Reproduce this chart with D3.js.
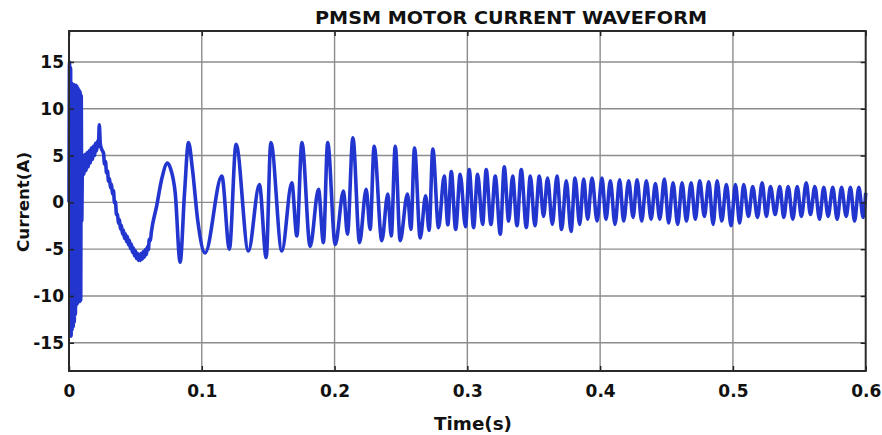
<!DOCTYPE html>
<html>
<head>
<meta charset="utf-8">
<script src="https://cdn.jsdelivr.net/npm/d3@7"></script>
<style>
  html, body { margin: 0; padding: 0; background: #fff; }
  text { font-family: "DejaVu Sans", Verdana, sans-serif; font-weight: bold; fill: #111; }
</style>
</head>
<body>
<svg id="chart" width="882" height="435"></svg>
<script>
// ---- data ----
const chartTitle = "PMSM MOTOR CURRENT WAVEFORM";
const xLabel = "Time(s)";
const yLabel = "Current(A)";
const xTicks = [0, 0.1, 0.2, 0.3, 0.4, 0.5, 0.6];
const xTickLabels = ["0", "0.1", "0.2", "0.3", "0.4", "0.5", "0.6"];
const yTicks = [-15, -10, -5, 0, 5, 10, 15];
const yTickLabels = ["-15", "-10", "-5", "0", "5", "10", "15"];

// time stamps (s) of the waveform vertices
const time = [
  0, 0.0004, 0.0008, 0.0012, 0.0016, 0.002, 0.0024, 0.0028, 0.0032, 0.0036,
  0.004, 0.0044, 0.0048, 0.0052, 0.0056, 0.006, 0.0064, 0.0068, 0.0072, 0.0076,
  0.008, 0.0084, 0.0088, 0.0092, 0.0096, 0.0100,
  0.0106, 0.0112, 0.0120, 0.0128, 0.0136, 0.0144, 0.0152, 0.0160, 0.0168, 0.0176,
  0.0184, 0.0192, 0.0200, 0.0208, 0.0216, 0.0222, 0.0228, 0.0236, 0.0248,
  0.02600, 0.02675, 0.02750, 0.02825, 0.02900, 0.02975, 0.03050, 0.03125, 0.03200, 0.03275,
  0.03350, 0.03425, 0.03500, 0.03575, 0.03650, 0.03725, 0.03800, 0.03875, 0.03950, 0.04025,
  0.04100, 0.04175, 0.04250, 0.04325, 0.04400, 0.04475, 0.04550, 0.04625, 0.04700, 0.04775,
  0.04850, 0.04925, 0.05000, 0.05075, 0.05150, 0.05225, 0.05300, 0.05375, 0.05450, 0.05525,
  0.05600, 0.05675, 0.05750, 0.05825, 0.05900, 0.05975, 0.06050, 0.06125, 0.06200,
  0.0660, 0.0700, 0.0741, 0.0765, 0.0800, 0.0837, 0.0870, 0.0900, 0.0930, 0.0970,
  0.1025, 0.1151, 0.1208, 0.1258, 0.1351, 0.1434, 0.1485, 0.1520, 0.1603, 0.1678,
  0.1716, 0.1754, 0.1816, 0.1879, 0.1916, 0.1948, 0.2005, 0.2067, 0.2097, 0.2138,
  0.2188, 0.2238, 0.2268, 0.2298, 0.2356, 0.2401, 0.2427, 0.2457, 0.2494, 0.2549,
  0.2575, 0.2602, 0.2645, 0.2686, 0.2712, 0.2740, 0.2783, 0.2826, 0.2853, 0.2879,
  0.2912, 0.2946, 0.2986, 0.3014, 0.3047, 0.3077, 0.3115, 0.3142, 0.3178, 0.3210,
  0.3248, 0.3278, 0.3311, 0.3341, 0.3374, 0.3406, 0.3444, 0.3474, 0.3509, 0.3542,
  0.3574, 0.3604, 0.3640, 0.3675, 0.3710, 0.3745, 0.3781, 0.3811, 0.3846, 0.3876,
  0.3906, 0.3939, 0.3977, 0.4014, 0.4044, 0.4077, 0.4112, 0.4147, 0.4177, 0.4215,
  0.4248, 0.4278, 0.4313, 0.4348, 0.4384, 0.4416, 0.4449, 0.4484, 0.4516, 0.4549,
  0.4584, 0.4617, 0.4650, 0.4685, 0.4717, 0.4750, 0.4785, 0.4818, 0.4851, 0.4881,
  0.4916, 0.4951, 0.4986, 0.5019, 0.5051, 0.5081, 0.5117, 0.5149, 0.5185, 0.5220,
  0.5252, 0.5283, 0.5318, 0.5353, 0.5383, 0.5416, 0.5451, 0.5484, 0.5516, 0.5552,
  0.5584, 0.5617, 0.5652, 0.5684, 0.5717, 0.5752, 0.5785, 0.5818, 0.5853, 0.5885,
  0.5916, 0.5948, 0.5981, 0.6000
];

// motor current (A) at each time stamp
const current = [
  0, 15.0, -11.5, 14.4, -14.3, 12.8, -13.6, 12.6, -13.3, 12.6,
  -12.8, 12.5, -12.0, 12.5, -11.0, 12.4, -10.8, 12.2, -10.6, 12.0,
  -10.6, 11.8, -10.5, 11.4, -2.0, 3.0,
  5.0, 3.0, 5.1, 3.4, 5.3, 3.8, 5.5, 4.2, 5.8, 4.6,
  6.0, 5.0, 6.3, 5.5, 6.6, 6.0, 8.3, 6.2, 5.6,
  5.25, 4.1, 4.35, 3.15, 3.35, 2.25, 2.55, 1.55, 1.95, 0.9,
  1.25, -0.05, 0.05, -1.3, -1.25, -2.25, -1.85, -2.85, -2.45, -3.4,
  -2.95, -3.85, -3.35, -4.2, -3.65, -4.55, -4.05, -4.95, -4.45, -5.35,
  -4.85, -5.7, -5.15, -6.0, -5.45, -6.2, -5.55, -6.2, -5.45, -6.05,
  -5.25, -5.85, -5.05, -5.6, -4.75, -5.05, -3.95, -4.1, -3.2,
  -0.4, 2.6, 4.2, 3.6, 1.0, -6.4, 1.0, 6.4, 3.5, -2.0,
  -5.4, 2.8, -5.0, 6.2, -5.2, 1.9, -5.9, 6.4, -5.2, 2.1,
  -3.6, 6.4, -4.7, 1.4, -4.3, 6.4, -4.5, 1.2, -3.4, 6.9,
  -4.3, 1.4, -2.9, 6.0, -4.1, 0.9, -3.6, 6.0, -4.1, 0.9,
  -2.9, 5.8, -3.8, 0.7, -3.0, 5.7, -2.7, 2.8, -2.4, 3.3,
  -2.9, 3.0, -2.6, 3.5, -2.7, 3.0, -2.35, 3.5, -2.35, 2.8,
  -3.4, 3.8, -2.0, 2.8, -2.5, 3.5, -2.7, 2.8, -2.5, 2.8,
  -1.5, 2.6, -2.35, 2.8, -2.9, 2.3, -3.1, 2.6, -2.35, 2.5,
  -1.8, 2.6, -2.0, 2.6, -1.8, 2.3, -2.35, 2.4, -2.0, 2.3,
  -1.6, 2.4, -2.0, 2.3, -1.8, 2.0, -1.8, 2.5, -2.2, 2.1,
  -2.35, 2.1, -2.0, 2.1, -1.8, 2.3, -1.5, 2.2, -2.35, 2.3,
  -2.0, 1.9, -2.5, 1.9, -2.2, 1.9, -1.5, 1.7, -1.6, 2.1,
  -1.5, 1.7, -1.3, 1.7, -1.6, 1.7, -1.8, 1.7, -1.5, 2.1,
  -1.3, 1.7, -1.8, 1.6, -1.5, 1.6, -1.8, 1.6, -1.5, 1.6,
  -2.0, 1.6, -1.6, 1.0
];

// ---- drawing ----
const plot = { left: 69, right: 865.7, top: 31, bottom: 371 };
const svg = d3.select("#chart");

const x = d3.scaleLinear().domain([0, 0.6]).range([plot.left, plot.right]);
const y = d3.scaleLinear().domain([-18.02, 18.31]).range([plot.bottom, plot.top]);

// grid
const grid = svg.append("g").attr("class", "grid");
grid.selectAll("line.gx").data(xTicks.slice(1, -1)).join("line")
  .attr("x1", d => x(d)).attr("x2", d => x(d))
  .attr("y1", plot.top).attr("y2", plot.bottom)
  .attr("stroke", "#8c8c8c").attr("stroke-width", 1.4);
grid.selectAll("line.gy").data(yTicks).join("line")
  .attr("x1", plot.left).attr("x2", plot.right)
  .attr("y1", d => y(d)).attr("y2", d => y(d))
  .attr("stroke", "#8c8c8c").attr("stroke-width", 1.4);

// waveform
const data = d3.zip(time, current);
const line = d3.line()
  .x(d => x(d[0]))
  .y(d => y(d[1]))
  .curve(d3.curveMonotoneX);
svg.append("path")
  .datum(data)
  .attr("d", line)
  .attr("fill", "none")
  .attr("stroke", "#2236cf")
  .attr("stroke-width", 3.6)
  .attr("stroke-linejoin", "round");

// axes
const xAxis = svg.append("g")
  .attr("transform", `translate(0,${plot.bottom})`)
  .call(d3.axisBottom(x).tickValues(xTicks)
    .tickFormat((d, i) => xTickLabels[i])
    .tickSizeInner(-5).tickSizeOuter(0).tickPadding(14));
const yAxis = svg.append("g")
  .attr("transform", `translate(${plot.left},0)`)
  .call(d3.axisLeft(y).tickValues(yTicks)
    .tickFormat((d, i) => yTickLabels[i])
    .tickSizeInner(-5).tickSizeOuter(0).tickPadding(5));
const xTop = svg.append("g")
  .attr("transform", `translate(0,${plot.top})`)
  .call(d3.axisTop(x).tickValues(xTicks).tickFormat("").tickSizeInner(-5).tickSizeOuter(0));
const yRight = svg.append("g")
  .attr("transform", `translate(${plot.right},0)`)
  .call(d3.axisRight(y).tickValues(yTicks).tickFormat("").tickSizeInner(-5).tickSizeOuter(0));

[xAxis, yAxis, xTop, yRight].forEach(g => {
  g.select(".domain").remove();
  g.selectAll(".tick line").attr("stroke", "#222").attr("stroke-width", 1.5);
  g.selectAll(".tick text")
    .attr("font-size", 17)
    .attr("font-family", "DejaVu Sans, Verdana, sans-serif")
    .attr("font-weight", "bold")
    .attr("fill", "#111");
});

// box
svg.append("rect")
  .attr("x", plot.left).attr("y", plot.top)
  .attr("width", plot.right - plot.left).attr("height", plot.bottom - plot.top)
  .attr("fill", "none").attr("stroke", "#2a2a2a").attr("stroke-width", 2);

// title and labels
svg.append("text")
  .attr("x", 511).attr("y", 24)
  .attr("text-anchor", "middle")
  .attr("font-size", 17)
  .attr("textLength", 392).attr("lengthAdjust", "spacingAndGlyphs")
  .text(chartTitle);

svg.append("text")
  .attr("x", 473).attr("y", 430)
  .attr("text-anchor", "middle")
  .attr("font-size", 17)
  .attr("textLength", 78).attr("lengthAdjust", "spacingAndGlyphs")
  .text(xLabel);

svg.append("text")
  .attr("transform", `translate(29,202) rotate(-90)`)
  .attr("text-anchor", "middle")
  .attr("font-size", 16)
  .attr("textLength", 100).attr("lengthAdjust", "spacingAndGlyphs")
  .text(yLabel);
</script>
</body>
</html>
